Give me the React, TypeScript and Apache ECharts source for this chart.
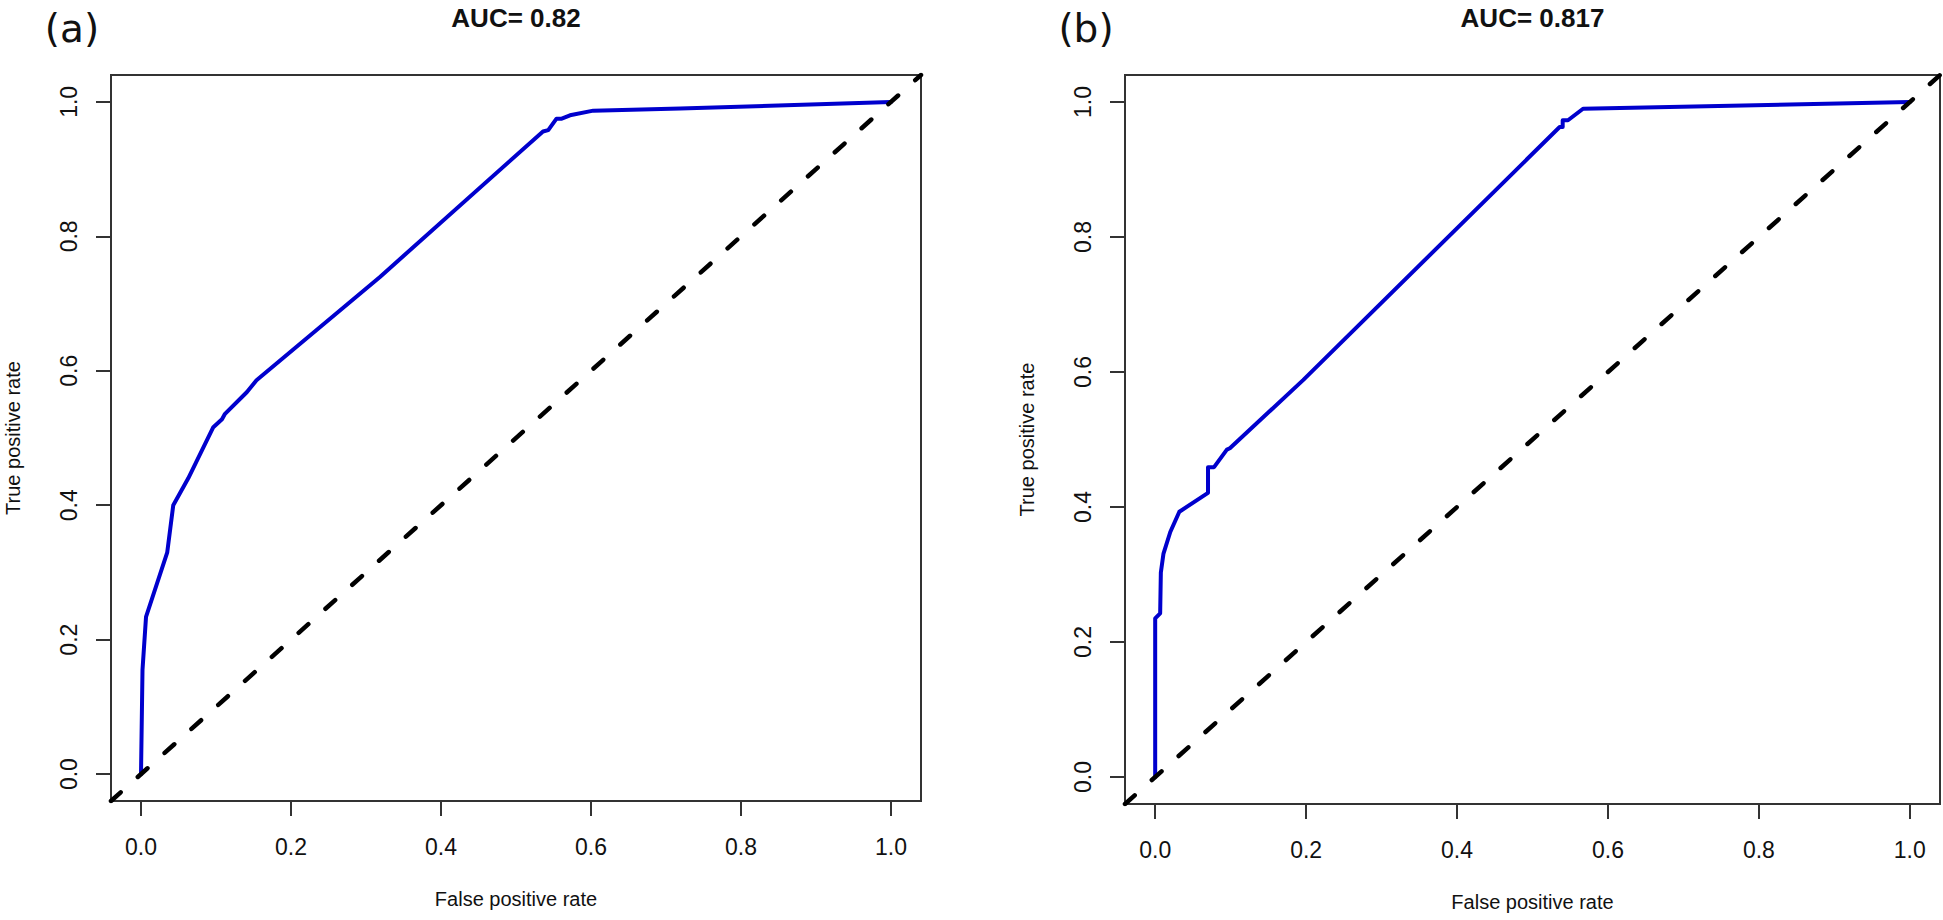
import React, { useEffect, useRef } from 'react';
import * as echarts from 'echarts';

// ---- data ----
const tickValues = [0, 0.2, 0.4, 0.6, 0.8, 1.0];
const tickLabels = ['0.0', '0.2', '0.4', '0.6', '0.8', '1.0'];
const panelTags = ['(a)', '(b)'];
const aucTitles = ['AUC= 0.82', 'AUC= 0.817'];
const xAxisTitle = 'False positive rate';
const yAxisTitle = 'True positive rate';

const fprA = [0, 0.002, 0.0067, 0.035, 0.043, 0.063, 0.0964, 0.108, 0.112, 0.141, 0.154, 0.319, 0.536, 0.543, 0.554, 0.561, 0.572, 0.603, 0.719, 1.0];
const tprA = [0, 0.155, 0.234, 0.33, 0.40, 0.44, 0.516, 0.528, 0.536, 0.568, 0.586, 0.740, 0.956, 0.958, 0.975, 0.975, 0.98, 0.987, 0.99, 1.0];

const fprB = [0, 0, 0.0066, 0.0075, 0.011, 0.02, 0.032, 0.07, 0.07, 0.078, 0.095, 0.099, 0.196, 0.536, 0.54, 0.54, 0.547, 0.567, 1.0];
const tprB = [0, 0.235, 0.2425, 0.303, 0.331, 0.363, 0.393, 0.421, 0.459, 0.459, 0.485, 0.487, 0.588, 0.963, 0.963, 0.973, 0.973, 0.99, 1.0];

const chanceX = [-0.04, 1.04];
const chanceY = [-0.04, 1.04];

// ---- layout ----
const grids = [
  { left: 111, top: 75, width: 810, height: 726 },
  { left: 1125, top: 75, width: 815, height: 729 },
];
const tagPos = [
  { x: 72, y: 28 },
  { x: 1086, y: 28 },
];

const FONT = "'Liberation Sans', Arial, Helvetica, sans-serif";
const AXIS_COLOR = '#333';
const CURVE_COLOR = '#0000cd';

function zip(xs: number[], ys: number[]) {
  return xs.map((x, i) => [x, ys[i]]);
}

function buildOption() {
  const curves = [zip(fprA, tprA), zip(fprB, tprB)];
  const grid = grids.map((g) => ({
    ...g,
    show: true,
    borderColor: AXIS_COLOR,
    borderWidth: 2,
    backgroundColor: 'transparent',
    containLabel: false,
  }));
  const fmt = (v: number) => {
    const i = tickValues.findIndex((t) => Math.abs(t - v) < 1e-9);
    return i >= 0 ? tickLabels[i] : '';
  };
  const xAxis = grids.map((_, i) => ({
    type: 'value',
    gridIndex: i,
    position: 'bottom',
    min: -0.04,
    max: 1.04,
    name: xAxisTitle,
    nameLocation: 'middle',
    nameGap: 88,
    nameTextStyle: { fontFamily: FONT, fontSize: 20, color: '#111' },
    axisLine: { show: false, onZero: false },
    axisTick: {
      show: true,
      inside: false,
      length: 15,
      customValues: tickValues,
      lineStyle: { color: AXIS_COLOR, width: 2 },
    },
    axisLabel: {
      show: true,
      customValues: tickValues,
      formatter: fmt,
      margin: 34,
      fontFamily: FONT,
      fontSize: 23,
      color: '#111',
    },
    splitLine: { show: false },
  }));
  const yAxis = grids.map((_, i) => ({
    type: 'value',
    gridIndex: i,
    position: 'left',
    min: -0.04,
    max: 1.04,
    name: yAxisTitle,
    nameLocation: 'middle',
    nameRotate: 90,
    nameGap: 88,
    nameTextStyle: { fontFamily: FONT, fontSize: 20, color: '#111' },
    axisLine: { show: false, onZero: false },
    axisTick: {
      show: true,
      inside: false,
      length: 15,
      customValues: tickValues,
      lineStyle: { color: AXIS_COLOR, width: 2 },
    },
    axisLabel: {
      show: true,
      customValues: tickValues,
      formatter: fmt,
      rotate: 90,
      margin: 31,
      fontFamily: FONT,
      fontSize: 23,
      color: '#111',
    },
    splitLine: { show: false },
  }));
  const series: any[] = [];
  curves.forEach((data, i) => {
    series.push({
      type: 'line',
      xAxisIndex: i,
      yAxisIndex: i,
      data,
      showSymbol: false,
      symbol: 'none',
      clip: true,
      lineStyle: { color: CURVE_COLOR, width: 4, join: 'round', cap: 'round' },
      z: 2,
    });
  });
  grids.forEach((_, i) => {
    series.push({
      type: 'line',
      xAxisIndex: i,
      yAxisIndex: i,
      data: zip(chanceX, chanceY),
      showSymbol: false,
      symbol: 'none',
      clip: true,
      lineStyle: { color: '#000', width: 4.5, type: [13, 23], cap: 'round' },
      z: 3,
    });
  });
  const graphic: any[] = [];
  panelTags.forEach((t, i) => {
    graphic.push({
      type: 'text',
      x: tagPos[i].x,
      y: tagPos[i].y,
      style: {
        text: t,
        fontFamily: "'DejaVu Sans', 'Open Sans', sans-serif",
        fontSize: 39,
        fill: '#111',
        textAlign: 'center',
        textVerticalAlign: 'middle',
      },
    });
  });
  aucTitles.forEach((t, i) => {
    graphic.push({
      type: 'text',
      x: grids[i].left + grids[i].width / 2,
      y: 18,
      style: {
        text: t,
        fontFamily: FONT,
        fontWeight: 'bold',
        fontSize: 26,
        fill: '#111',
        textAlign: 'center',
        textVerticalAlign: 'middle',
      },
    });
  });
  return {
    animation: false,
    backgroundColor: '#fff',
    grid,
    xAxis,
    yAxis,
    series,
    graphic,
  };
}

export default function App() {
  const ref = useRef<HTMLDivElement>(null);
  useEffect(() => {
    if (!ref.current) return;
    const chart = echarts.init(ref.current, undefined, { renderer: 'svg' });
    chart.setOption(buildOption() as any);
    return () => chart.dispose();
  }, []);
  return (
    <div
      ref={ref}
      style={{ position: 'absolute', left: 0, top: 0, width: 1943, height: 920 }}
    />
  );
}
